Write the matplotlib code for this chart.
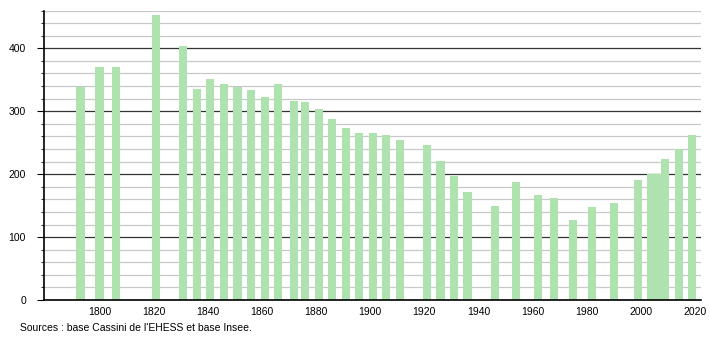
import matplotlib
matplotlib.use('Agg')
import matplotlib.pyplot as plt
from matplotlib.ticker import MultipleLocator

plt.rcParams['font.family'] = ['Liberation Sans', 'DejaVu Sans']

# census years and population
years = [1793, 1800, 1806, 1821, 1831, 1836, 1841, 1846, 1851, 1856,
         1861, 1866, 1872, 1876, 1881, 1886, 1891, 1896, 1901, 1906,
         1911, 1921, 1926, 1931, 1936, 1946, 1954, 1962, 1968, 1975,
         1982, 1990, 1999, 2004, 2006, 2009, 2014, 2019]
pop = [338, 370, 370, 453, 403, 335, 351, 344, 339, 333,
       323, 343, 316, 315, 304, 288, 273, 265, 265, 262,
       254, 246, 221, 197, 171, 149, 188, 167, 162, 127,
       148, 154, 191, 200, 200, 224, 240, 262]

xticks = [1800, 1820, 1840, 1860, 1880, 1900, 1920, 1940, 1960, 1980, 2000, 2020]
source = "Sources : base Cassini de l'EHESS et base Insee."

fig = plt.figure(figsize=(7.1, 3.4), dpi=100)
ax = fig.add_axes([0.062, 0.1176, 0.925, 0.8513])

ax.bar(years, pop, width=3, color='#aee2ae', zorder=2)

ax.set_xlim(1779.5, 2022.2)
ax.set_ylim(0, 460)
ax.set_xticks(xticks)
ax.yaxis.set_major_locator(MultipleLocator(100))
ax.yaxis.set_minor_locator(MultipleLocator(20))

ax.set_axisbelow(True)
ax.grid(True, axis='y', which='minor', color='#c8c8c8', lw=0.9)
ax.grid(True, axis='y', which='major', color='#333333', lw=0.9)

for s in ['top', 'right']:
    ax.spines[s].set_visible(False)
ax.spines['left'].set_linewidth(1.2)
ax.spines['bottom'].set_linewidth(1.2)

ax.tick_params(axis='x', length=0, labelsize=7.5, pad=5)
ax.tick_params(axis='y', which='major', length=5, labelsize=7.5, pad=8)
ax.tick_params(axis='y', which='minor', length=2.5)

fig.text(20 / 710, 1 - 328 / 340, source, fontsize=7.5, va='center', ha='left')

fig.savefig('out.png', dpi=100)
